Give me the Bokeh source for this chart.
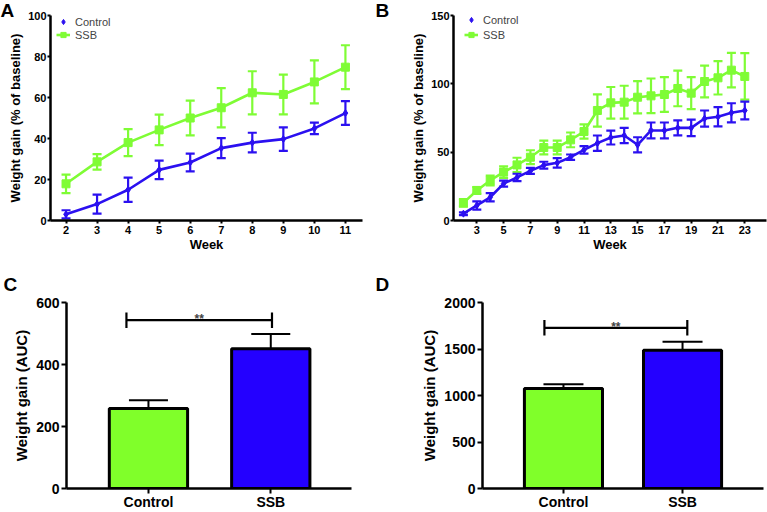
from bokeh.plotting import figure
from bokeh.models import (Range1d, FixedTicker, Whisker, TeeHead, ColumnDataSource,
                          Legend, LegendItem, Label)
from bokeh.layouts import row, column
from bokeh.embed import file_html
from bokeh.resources import INLINE

# ---------------- data ----------------
weeks_A = [2, 3, 4, 5, 6, 7, 8, 9, 10, 11]
ctrl_A = [3, 8, 15, 24.7, 28.3, 35.3, 38, 39.7, 44.9, 52.4]
ctrl_A_err = [2, 4.6, 5.9, 4.5, 4.3, 4.9, 4.8, 5.7, 2.8, 5.8]
ssb_A = [17.9, 28.6, 38, 44.2, 50, 55, 62.3, 61.5, 67.6, 74.8]
ssb_A_err = [4.5, 3.8, 6.6, 7.4, 8.5, 9.6, 10.5, 9.7, 10.5, 10.7]

weeks_B = list(range(2, 24))
ctrl_B = [5, 11, 17, 27, 31.5, 36.3, 40.5, 42.2, 46.3, 51.7, 56.6, 60.7,
          62.2, 55.4, 65.9, 65.9, 67.8, 67.8, 74.6, 75.9, 78.8, 80.5]
ctrl_B_err = [1, 3, 3, 2.2, 2.7, 2.2, 2.5, 3.5, 2, 2.7, 5.6, 5.1,
              5.6, 5.5, 5.8, 5.8, 5.5, 6, 5.9, 7, 7, 6.5]
ssb_B = [12.9, 22, 29.3, 35.4, 40.7, 46.3, 53.4, 53.4, 59, 65.1, 80.5, 86.1,
         86.6, 90.2, 91.2, 92.2, 96.6, 93.2, 101.7, 104.4, 110, 105.4]
ssb_B_err = [2.7, 2.5, 3.6, 4.2, 5.2, 5.1, 5, 5, 5.4, 5.2, 11.8, 11.6,
             12, 11.8, 12.7, 12.7, 13, 11.7, 11.6, 12.2, 12.6, 17]

ticks_A_x = [2, 3, 4, 5, 6, 7, 8, 9, 10, 11]
ticks_A_y = [0, 20, 40, 60, 80, 100]
ticks_B_x = [3, 5, 7, 9, 11, 13, 15, 17, 19, 21, 23]
ticks_B_y = [0, 50, 100, 150]

groups = ["Control", "SSB"]
auc_C = [258, 451]
auc_C_err = [27, 47]
auc_D = [1075, 1487]
auc_D_err = [47, 90]
ticks_C_y = [0, 200, 400, 600]
ticks_D_y = [0, 500, 1000, 1500, 2000]
sig_label = "**"

# ---------------- style ----------------
BLUE_LINE = "#2b10f0"
GREEN_LINE = "#7ffc35"
BLUE_BAR = "#2400ff"
GREEN_BAR = "#80ff2a"
FONT = "Liberation Sans"


def style_axes(p, tick_size, label_size, tick_out):
    for ax in list(p.xaxis) + list(p.yaxis):
        ax.axis_line_width = 2.5
        ax.axis_line_color = "black"
        ax.major_tick_line_width = 2
        ax.major_tick_line_color = "black"
        ax.major_tick_in = 0
        ax.major_tick_out = tick_out
        ax.minor_tick_line_color = None
        ax.major_label_text_font = FONT
        ax.major_label_text_font_style = "bold"
        ax.major_label_text_font_size = tick_size
        ax.major_label_text_color = "black"
        ax.axis_label_text_font = FONT
        ax.axis_label_text_font_style = "bold"
        ax.axis_label_text_font_size = label_size
        ax.axis_label_text_color = "black"
    p.xgrid.grid_line_color = None
    p.ygrid.grid_line_color = None
    p.outline_line_color = None


def letter(p, text, offset, standoff, fallback):
    t = p.title
    t.text = text
    t.align = "left"
    t.vertical_align = "bottom"
    t.text_font = FONT
    t.text_font_style = "bold"
    t.text_font_size = "19px"
    t.text_color = "black"
    t.offset = offset
    try:
        t.standoff = standoff
    except Exception:
        t.standoff = fallback


def err_src(xs, m, e):
    return ColumnDataSource(dict(x=xs, y=m,
                                 lo=[a - b for a, b in zip(m, e)],
                                 hi=[a + b for a, b in zip(m, e)]))


def line_panel(w, h, bl, br, bt, bb, xr, yr, xt, yt, weeks, ctrl, ctrl_e, ssb, ssb_e,
               leg_x, leg_y, leg_spacing, text, loff):
    p = figure(width=w, height=h, x_range=Range1d(*xr), y_range=Range1d(*yr),
               output_backend="svg", toolbar_location=None,
               min_border_left=bl, min_border_right=br, min_border_top=bt, min_border_bottom=bb,
               x_axis_label="Week", y_axis_label="Weight gain (% of baseline)")
    style_axes(p, "11px", "13px", 3)
    p.xaxis.ticker = FixedTicker(ticks=xt)
    p.yaxis.ticker = FixedTicker(ticks=yt)
    p.xaxis.major_label_standoff = 2
    p.xaxis.axis_label_standoff = 0
    p.yaxis.major_label_standoff = 1
    p.yaxis.axis_label_standoff = 2

    s_ssb = err_src(weeks, ssb, ssb_e)
    s_ctrl = err_src(weeks, ctrl, ctrl_e)
    for src, col in ((s_ssb, GREEN_LINE), (s_ctrl, BLUE_LINE)):
        p.add_layout(Whisker(source=src, base="x", upper="hi", lower="lo", dimension="height",
                             line_color=col, line_width=2.2,
                             upper_head=TeeHead(size=9, line_color=col, line_width=2.2),
                             lower_head=TeeHead(size=9, line_color=col, line_width=2.2)))
    l_ssb = p.line("x", "y", source=s_ssb, line_color=GREEN_LINE, line_width=2.6)
    m_ssb = p.scatter("x", "y", source=s_ssb, marker="square", size=8,
                      fill_color=GREEN_LINE, line_color=GREEN_LINE)
    l_ctrl = p.line("x", "y", source=s_ctrl, line_color=BLUE_LINE, line_width=2.6)
    m_ctrl = p.scatter("x", "y", source=s_ctrl, marker="diamond", size=7,
                       fill_color=BLUE_LINE, line_color=BLUE_LINE)

    leg = Legend(items=[LegendItem(label="Control", renderers=[m_ctrl]),
                        LegendItem(label="SSB", renderers=[l_ssb, m_ssb])],
                 location=(leg_x, leg_y), margin=0, padding=0, spacing=leg_spacing,
                 glyph_width=14, glyph_height=13, label_height=13, label_standoff=5,
                 label_text_font=FONT, label_text_font_size="11px",
                 background_fill_alpha=0, border_line_alpha=0)
    p.add_layout(leg)
    letter(p, text, loff, -10, 0)
    return p


def bar_panel(w, h, bl, br, bt, bb, xr, yr, yt, vals, errs, bar_w, cap, sig_x, sig_y, sig_h,
              text, loff):
    xs = [i + 1 for i in range(len(groups))]
    p = figure(width=w, height=h, x_range=Range1d(*xr), y_range=Range1d(*yr),
               output_backend="svg", toolbar_location=None,
               min_border_left=bl, min_border_right=br, min_border_top=bt, min_border_bottom=bb,
               y_axis_label="Weight gain (AUC)")
    style_axes(p, "14px", "15px", 5)
    p.xaxis.ticker = FixedTicker(ticks=xs)
    p.xaxis.major_label_overrides = {x: g for x, g in zip(xs, groups)}
    p.yaxis.ticker = FixedTicker(ticks=yt)
    p.xaxis.major_label_standoff = 0
    p.yaxis.major_label_standoff = 2
    p.yaxis.axis_label_standoff = 3

    src = ColumnDataSource(dict(x=xs, top=vals, hi=[v + e for v, e in zip(vals, errs)],
                                color=[GREEN_BAR, BLUE_BAR]))
    p.add_layout(Whisker(source=src, base="x", upper="hi", lower="top", dimension="height",
                         line_color="black", line_width=2,
                         upper_head=TeeHead(size=cap, line_color="black", line_width=2),
                         lower_head=None))
    p.vbar(x="x", top="top", bottom=0, width=bar_w, source=src, fill_color="color",
           line_color="black", line_width=3)
    a, b = sig_x
    p.segment(x0=[a, a, b], y0=[sig_y, sig_y - sig_h, sig_y - sig_h],
              x1=[b, a, b], y1=[sig_y, sig_y + sig_h, sig_y + sig_h],
              line_color="black", line_width=2.2)
    p.add_layout(Label(x=(a + b) / 2, y=sig_y, text=sig_label, y_offset=1,
                       text_font=FONT, text_font_style="bold", text_font_size="12px",
                       text_align="center", text_baseline="alphabetic"))
    letter(p, text, loff, 15, 15)
    return p


pA = line_panel(370, 262, 50, 8, 15, 42, (1.5, 11.55), (0, 100), ticks_A_x, ticks_A_y,
                weeks_A, ctrl_A, ctrl_A_err, ssb_A, ssb_A_err, 6, 179, 0, "A", -50)
pB = line_panel(397, 262, 83, 1, 15, 42, (1.26, 24.62), (0, 150), ticks_B_x, ticks_B_y,
                weeks_B, ctrl_B, ctrl_B_err, ssb_B, ssb_B_err, 11, 179, 2, "B", -78)
pC = bar_panel(370, 250, 66, 19, 40, 21, (0.33, 2.66), (0, 600), ticks_C_y,
               auc_C, auc_C_err, 0.64, 39, (0.82, 2.01), 543, 25, "C", -63)
pD = bar_panel(397, 250, 112, 4, 40, 24, (0.32, 2.68), (0, 2000), ticks_D_y,
               auc_D, auc_D_err, 0.656, 40, (0.84, 2.04), 1728, 84, "D", -107)

layout = column(row(pA, pB), row(pC, pD))
open("out.html", "w").write(file_html(layout, INLINE))
